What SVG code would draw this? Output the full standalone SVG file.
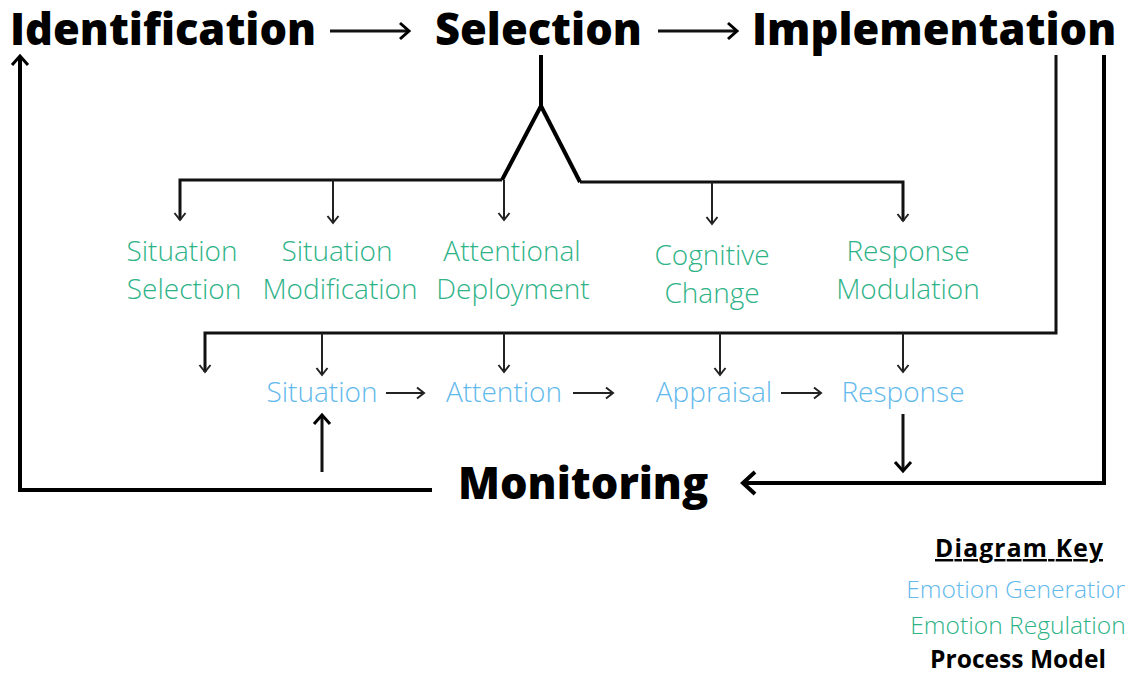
<svg xmlns="http://www.w3.org/2000/svg" width="1125" height="673" viewBox="0 0 1125 673">
<style>
.hd{font-family:"Open Sans","Noto Sans",sans-serif;font-weight:800;font-size:43.4px;fill:#000}
.gr{font-family:"Open Sans","Noto Sans",sans-serif;font-weight:300;font-size:28px;fill:#2eb387;text-anchor:middle}
.bl{font-family:"Open Sans","Noto Sans",sans-serif;font-weight:300;font-size:28px;fill:#62b9ec;text-anchor:middle}
.key{font-family:"Open Sans","Noto Sans",sans-serif;font-size:24.6px;text-anchor:middle}
.thick{fill:none;stroke:#000;stroke-width:4;stroke-linejoin:miter}
.mid{fill:none;stroke:#111;stroke-width:3}
.thin{fill:none;stroke:#222;stroke-width:2}
</style>
<defs>
<marker id="as" markerUnits="userSpaceOnUse" markerWidth="20" markerHeight="20" viewBox="-10 -10 20 20" refX="0" refY="0" orient="auto" overflow="visible"><path d="M-7,-5.5 L0,0 L-7,5.5" fill="none" stroke="#222" stroke-width="2"/></marker>
<marker id="am" markerUnits="userSpaceOnUse" markerWidth="24" markerHeight="24" viewBox="-12 -12 24 24" refX="0" refY="0" orient="auto" overflow="visible"><path d="M-9,-8 L0,0 L-9,8" fill="none" stroke="#000" stroke-width="3"/></marker>
<marker id="al" markerUnits="userSpaceOnUse" markerWidth="30" markerHeight="30" viewBox="-15 -15 30 30" refX="0" refY="0" orient="auto" overflow="visible"><path d="M-12,-11 L0,0 L-12,11" fill="none" stroke="#000" stroke-width="4"/></marker>
</defs>

<g id="connectors">
<line class="mid" x1="330" y1="31" x2="409" y2="31" marker-end="url(#am)"/>
<line class="mid" x1="658" y1="31" x2="737" y2="31" marker-end="url(#am)"/>
<polyline class="thick" points="432,490 20,490 20,56" marker-end="url(#am)"/>
<polyline class="thick" points="541,55 541,106 502,180"/>
<polyline class="thick" points="541,106 580,182"/>
<polyline class="mid" points="502,180 180,180 180,220" marker-end="url(#as)"/>
<line class="thin" x1="333" y1="180" x2="333" y2="223" marker-end="url(#as)"/>
<line class="thin" x1="504" y1="180" x2="504" y2="220" marker-end="url(#as)"/>
<polyline class="mid" points="580,182 903,182 903,221" marker-end="url(#as)"/>
<line class="thin" x1="712" y1="182" x2="712" y2="224" marker-end="url(#as)"/>
<polyline class="mid" points="1056,55 1056,333 205,333 205,372" marker-end="url(#as)"/>
<line class="thin" x1="322" y1="333" x2="322" y2="375" marker-end="url(#as)"/>
<line class="thin" x1="504" y1="333" x2="504" y2="372" marker-end="url(#as)"/>
<line class="thin" x1="720" y1="333" x2="720" y2="375" marker-end="url(#as)"/>
<line class="thin" x1="903" y1="333" x2="903" y2="372" marker-end="url(#as)"/>
<polyline class="thick" points="1104,55 1104,483 743,483" marker-end="url(#al)"/>
<line class="thin" x1="386" y1="393" x2="424" y2="393" marker-end="url(#as)"/>
<line class="thin" x1="573" y1="393" x2="613" y2="393" marker-end="url(#as)"/>
<line class="thin" x1="781" y1="393" x2="821" y2="393" marker-end="url(#as)"/>
<line class="mid" x1="322" y1="472" x2="322" y2="415" marker-end="url(#am)"/>
<line class="mid" x1="903" y1="414" x2="903" y2="471" marker-end="url(#am)"/>
</g>

<g id="identification"><text class="hd" x="10" y="45">Identification</text></g>
<g id="selection"><text class="hd" x="435" y="45">Selection</text></g>
<g id="implementation"><text class="hd" x="752" y="45">Implementation</text></g>
<g id="monitoring"><text class="hd" x="458" y="499">Monitoring</text></g>

<g id="situation-selection"><text class="gr" x="182" y="261">Situation</text><text class="gr" x="184" y="299">Selection</text></g>
<g id="situation-modification"><text class="gr" x="337" y="261">Situation</text><text class="gr" x="340" y="299">Modification</text></g>
<g id="attentional-deployment"><text class="gr" x="512" y="261">Attentional</text><text class="gr" x="513" y="299">Deployment</text></g>
<g id="cognitive-change"><text class="gr" x="712" y="265">Cognitive</text><text class="gr" x="712" y="303">Change</text></g>
<g id="response-modulation"><text class="gr" x="908" y="261">Response</text><text class="gr" x="908" y="299">Modulation</text></g>

<g id="situation"><text class="bl" x="322" y="402">Situation</text></g>
<g id="attention"><text class="bl" x="504" y="402">Attention</text></g>
<g id="appraisal"><text class="bl" x="714" y="402">Appraisal</text></g>
<g id="response"><text class="bl" x="903" y="402">Response</text></g>

<g id="key">
<text class="key" x="1019" y="557" font-weight="700" font-size="25px" textLength="168" lengthAdjust="spacing" text-decoration="underline" fill="#000">Diagram Key</text>
<text class="key" x="1018" y="598" font-weight="300" fill="#62b9ec">Emotion Generation</text>
<text class="key" x="1018" y="634" font-weight="300" fill="#2eb387">Emotion Regulation</text>
<text class="key" x="1018" y="668" font-weight="700" fill="#000">Process Model</text>
</g>
</svg>
